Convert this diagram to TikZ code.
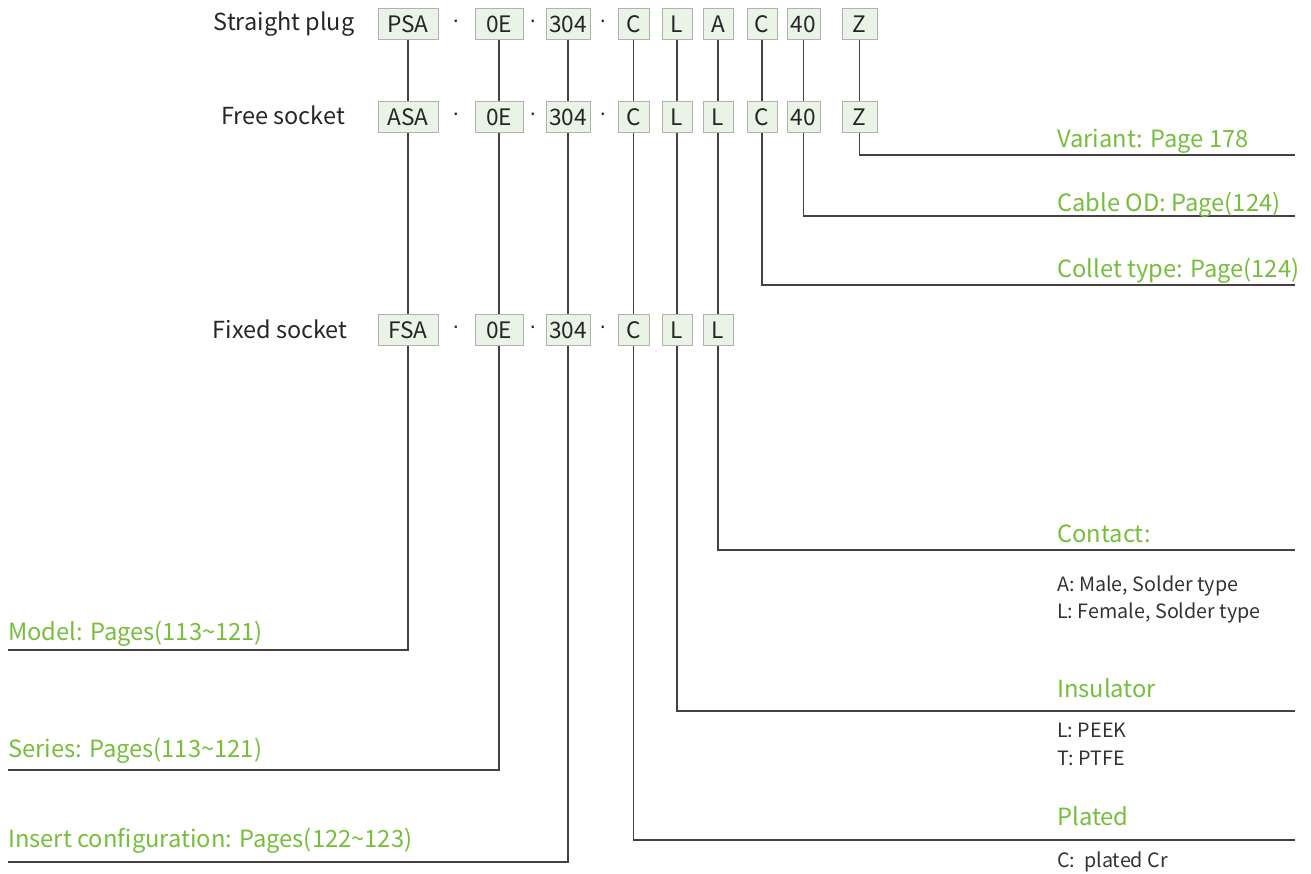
\documentclass[tikz,border=0pt]{standalone}
\usepackage{fontspec}
\setmainfont{Noto Sans CJK SC}
\newfontfamily\dotfont{Liberation Sans}
\definecolor{boxfill}{RGB}{233,243,230}
\definecolor{boxline}{RGB}{175,178,175}
\definecolor{labgreen}{RGB}{118,190,60}
\definecolor{wirecol}{RGB}{70,64,64}
\begin{document}
\begin{tikzpicture}[x=0.75pt, y=-0.75pt,
    code/.style={draw=boxline, fill=boxfill, minimum height=23.25pt, inner sep=0pt,
      font=\fontsize{17}{20}\selectfont, text=black!85},
    sep/.style={inner sep=0pt, font=\dotfont\fontsize{17}{20}\selectfont, text=black!85},
    rowlab/.style={anchor=base, font=\fontsize{17.6}{20}\selectfont, text=black!85},
    grn/.style={anchor=base west, inner sep=0pt, text=labgreen, font=\fontsize{17.8}{22}\selectfont},
    note/.style={anchor=base west, inner sep=0pt, text=black!80, font=\fontsize{14.8}{18}\selectfont},
    wire/.style={draw=wirecol, line width=0.9pt}]
  \useasboundingbox (0,0) rectangle (1311,874);
  % code boxes, one row per part; column n keeps its x in every row
  \foreach \n/\x/\w/\s in {1/408/45/PSA, 2/499/36/0E, 3/568/33/304, 4/633.5/23/C, 5/677/22.5/L,
      6/718/22.5/A, 7/762/22.5/C, 8/803.5/25/40, 9/859.5/26/Z}
    \node[code, minimum width=\w pt] (p\n) at (\x,24) {\s};
  \foreach \n/\x/\w/\s in {1/408/45/ASA, 2/499/36/0E, 3/568/33/304, 4/633.5/23/C, 5/677/22.5/L,
      6/718/22.5/L, 7/762/22.5/C, 8/803.5/25/40, 9/859.5/26/Z}
    \node[code, minimum width=\w pt] (a\n) at (\x,117) {\s};
  \foreach \n/\x/\w/\s in {1/408/45/FSA, 2/499/36/0E, 3/568/33/304, 4/633.5/23/C, 5/677/22.5/L,
      6/718/22.5/L}
    \node[code, minimum width=\w pt] (f\n) at (\x,330) {\s};
  % separating dots
  \foreach \r/\y in {p/24, a/117, f/330}
    \foreach \k/\x in {1/456, 2/533, 3/603}
      \node[sep] (\r dot\k) at (\x,\y) {·};
  \node[rowlab] (plug) at (284,31) {Straight plug};
  \node[rowlab] (free) at (283,125) {Free socket};
  \node[rowlab] (fixed) at (280,338) {Fixed socket};
  % row to row
  \foreach \n in {1,...,9}
    \draw[wire] (p\n.south) -- (a\n.north);
  \foreach \n in {1,...,6}
    \draw[wire] (a\n.south) -- (f\n.north);
  % leaders to the left
  \coordinate (model) at (8,650);
  \coordinate (series) at (8,770);
  \coordinate (insert) at (8,862);
  \draw[wire] (f1.south) |- (model);
  \draw[wire] (f2.south) |- (series);
  \draw[wire] (f3.south) |- (insert);
  \node[grn] (modeltxt) at (8,640) {Model: Pages(113\textasciitilde121)};
  \node[grn] (seriestxt) at (8,757) {Series: Pages(113\textasciitilde121)};
  \node[grn] (inserttxt) at (8,847) {Insert configuration: Pages(122\textasciitilde123)};
  % leaders to the right
  \coordinate (variant) at (1295,155);
  \coordinate (cable) at (1295,216);
  \coordinate (collet) at (1295,285);
  \coordinate (contact) at (1295,550);
  \coordinate (insul) at (1295,711);
  \coordinate (plated) at (1295,840);
  \draw[wire] (a9.south) |- (variant);
  \draw[wire] (a8.south) |- (cable);
  \draw[wire] (a7.south) |- (collet);
  \draw[wire] (f6.south) |- (contact);
  \draw[wire] (f5.south) |- (insul);
  \draw[wire] (f4.south) |- (plated);
  \node[grn] (varianttxt) at (1057,147) {Variant: Page 178};
  \node[grn] (cabletxt) at (1057,211) {Cable OD: Page(124)};
  \node[grn] (collettxt) at (1057,277) {Collet type: Page(124)};
  \node[grn] (contacttxt) at (1057,542) {Contact:};
  \node[note] (male) at (1057,591) {A: Male, Solder type};
  \node[note] (female) at (1057,618) {L: Female, Solder type};
  \node[grn] (insultxt) at (1057,697) {Insulator};
  \node[note] (peek) at (1057,737) {L: PEEK};
  \node[note] (ptfe) at (1057,765) {T: PTFE};
  \node[grn] (platedtxt) at (1057,825) {Plated};
  \node[note] (cr) at (1057,867) {C:\ \ plated Cr};
\end{tikzpicture}
\end{document}
